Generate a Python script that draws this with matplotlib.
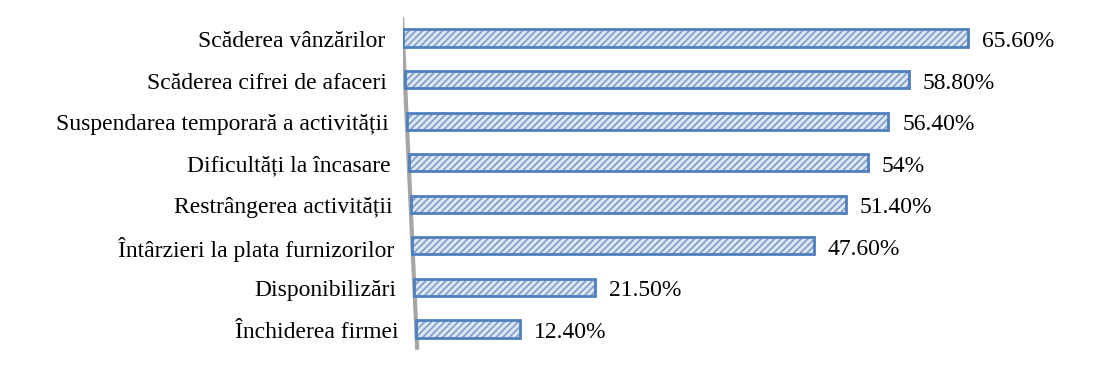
import numpy as np
import matplotlib.pyplot as plt

categories = ["Scăderea vânzărilor", "Scăderea cifrei de afaceri",
              "Suspendarea temporară a activității", "Dificultăți la încasare",
              "Restrângerea activității", "Întârzieri la plata furnizorilor",
              "Disponibilizări", "Închiderea firmei"]
values = [65.6, 58.8, 56.4, 54.0, 51.4, 47.6, 21.5, 12.4]
value_labels = ["65.60%", "58.80%", "56.40%", "54%", "51.40%", "47.60%", "21.50%", "12.40%"]

plt.rcParams['font.family'] = ['Liberation Serif', 'DejaVu Serif']
plt.rcParams['hatch.linewidth'] = 1.2

fig = plt.figure(figsize=(10.96, 3.84), dpi=100)
# axes placed in pixels: x from 403 px, 8.61 px per unit; rows 41.6 px apart
ax = fig.add_axes([403 / 1096, (384 - 349.8) / 384, 80 * 8.61 / 1096, 332.6 / 384])

y = np.arange(len(values))
slant = 0.22          # fake 3d axis lean, data units per row
persp = 1 - 0.0042 * y  # slight perspective shrink lower down
lefts = slant * y
widths = np.array(values) * persp

# slanted gray axis line
ax.plot([slant * -0.5, slant * 7.5], [-0.5, 7.5], color="#a6a6a6", lw=3,
        solid_capstyle="butt", zorder=1)

ax.barh(y, widths, left=lefts, height=0.41, color="#dce7f6",
        edgecolor="#7f9cc6", hatch="/////", linewidth=0, zorder=2)
ax.barh(y, widths, left=lefts, height=0.41, color="none",
        edgecolor="#4f7fbd", linewidth=2, zorder=3)

for yi, l, w, cat, lab in zip(y, lefts, widths, categories, value_labels):
    ax.annotate(cat, (l, yi), xytext=(-13, -2.5), textcoords="offset points",
                ha="right", va="center", fontsize=17)
    ax.annotate(lab, (l + w, yi), xytext=(10, -2.5), textcoords="offset points",
                ha="left", va="center", fontsize=17)

ax.set_xlim(0, 80)
ax.set_ylim(7.5, -0.5)
ax.axis("off")

fig.savefig("out.png", dpi=100)
